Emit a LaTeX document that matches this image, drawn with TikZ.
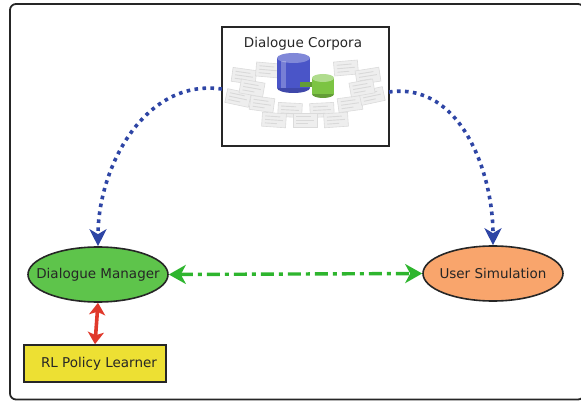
\documentclass[tikz,border=0pt]{standalone}
\usepackage{fontspec}
\setmainfont{DejaVu Sans}
\usetikzlibrary{arrows.meta,shapes.geometric}
\definecolor{flowblue}{HTML}{2E45A5}
\definecolor{flowgreen}{HTML}{2EB52E}
\definecolor{flowred}{HTML}{E0392B}
\definecolor{dmgreen}{HTML}{5EC44B}
\definecolor{usorange}{HTML}{F9A56C}
\definecolor{rlyellow}{HTML}{EDE033}
\definecolor{dbblue}{HTML}{4A55C8}
\definecolor{dbgreen}{HTML}{7CC443}
\tikzset{
  lbl/.style={font=\fontsize{13.5}{16}\selectfont, text=black!85},
  agent/.style={ellipse, draw=black!85, line width=1.6pt, minimum width=140pt, minimum height=55pt, inner sep=0pt},
  boxnode/.style={rectangle, draw=black!85, line width=1.6pt, inner sep=0pt},
  dataflow/.style={flowblue, line width=3.6pt, dash pattern=on 3.6pt off 4.4pt, -{Stealth[length=17pt,width=17pt,inset=5pt]}},
  exchange/.style={flowgreen, line width=3.4pt, dash pattern=on 13pt off 5pt on 4pt off 5pt, {Stealth[length=17pt,width=19pt,inset=5pt]}-{Stealth[length=17pt,width=19pt,inset=5pt]}},
  learning/.style={flowred, line width=3.6pt, {Stealth[length=12pt,width=16pt,inset=3pt]}-{Stealth[length=12pt,width=16pt,inset=3pt]}},
  sheet/.style={fill=gray!13, draw=gray!28, line width=0.6pt},
}
\begin{document}
\begin{tikzpicture}[x=1pt,y=-1pt]
\useasboundingbox (0,0) rectangle (581,401);
% outer frame
\draw[black!85, line width=1.8pt, rounded corners=6pt] (10,4) rectangle (584,399.5);

% corpora box
\node[boxnode, minimum width=167pt, minimum height=119pt] (corpora) at (305.5,86.5) {};
\node[lbl, anchor=center] (corporatitle) at (303,44) {Dialogue Corpora};

% faded document sheets around the databases
\foreach \cx/\cy/\r in {244/76/-8, 268/70/-5, 346/68/5, 368/76/9, 238/98/-12, 262/104/-8, 290/110/-3, 322/110/3, 350/104/8, 372/96/12, 252/88/-10, 362/88/10, 305/120/0, 336/120/4, 274/120/-4}{
  \begin{scope}[shift={(\cx,\cy)}, rotate=\r]
    \fill[sheet] (-12,-7) rectangle (12,7);
    \draw[gray!30, line width=0.9pt] (-9,-3.5) -- (6,-3.5) (-9,0) -- (9,0) (-9,3.5) -- (3,3.5);
  \end{scope}
}

% blue database cylinder
\fill[dbblue!85!black] (293.5,88) ellipse (16.5pt and 5pt);
\fill[dbblue] (277,58) rectangle (310,88);
\fill[dbblue!70!white] (293.5,58) ellipse (16.5pt and 5pt);
\fill[white, opacity=0.25] (281,61) rectangle (286,88);
% pipe between the databases
\fill[dbgreen!80!black] (300,82) rectangle (316,87);
% green database cylinder
\fill[dbgreen!80!black] (323,94) ellipse (11pt and 4pt);
\fill[dbgreen] (312,78) rectangle (334,94);
\fill[dbgreen!60!white] (323,78) ellipse (11pt and 4pt);

% agents
\node[agent, fill=dmgreen] (dm) at (98,274.5) {};
\node[lbl] (dmtext) at (dm.center) {Dialogue Manager};
\node[agent, fill=usorange] (us) at (493,273.5) {};
\node[lbl] (ustext) at (us.center) {User Simulation};
\node[boxnode, fill=rlyellow, minimum width=142pt, minimum height=37pt] (rl) at (95,363.5) {};
\node[lbl] (rltext) at ([xshift=4pt]rl.center) {RL Policy Learner};

% data flow from the corpora
\coordinate (corpL) at (222,89);
\coordinate (corpR) at (389,92);
\draw[dataflow] (corpL) to[out=172,in=90] (dm.north);
\draw[dataflow] (corpR) to[out=8,in=90] (us.north);

% dialogue exchange
\draw[exchange] (dm.east) -- (us.west);

% policy learning
\draw[learning] (dm.south) -- (rl.north);
\end{tikzpicture}
\end{document}
